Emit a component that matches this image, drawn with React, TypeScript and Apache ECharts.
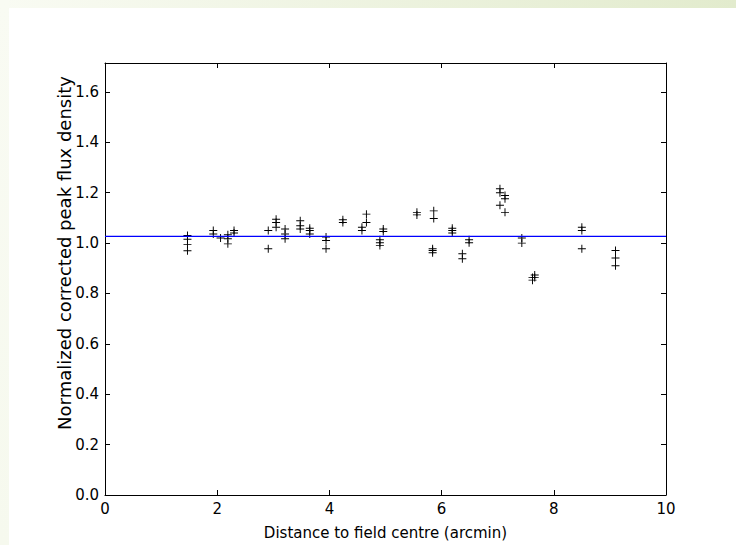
import React, { useEffect, useRef } from "react";
import * as echarts from "echarts";

// Distances (arcmin) of each group of sources
const clusterX: number[] = [
  1.47, 1.93, 2.06, 2.19, 2.3, 2.91, 3.05, 3.21, 3.48, 3.65, 3.94, 4.24, 4.58, 4.66,
  4.9, 4.96, 5.56, 5.86, 5.84, 6.19, 6.37, 6.49, 7.04, 7.13, 7.43, 7.62, 7.66, 8.5, 9.1,
];
// Normalized corrected peak flux density values for each group
const clusterY: number[][] = [
  [1.03, 1.015, 0.995, 0.97],
  [1.05, 1.036],
  [1.02],
  [1.033, 1.017, 0.997],
  [1.05, 1.04],
  [1.05, 0.978],
  [1.095, 1.082, 1.063],
  [1.056, 1.036, 1.017],
  [1.089, 1.069, 1.056],
  [1.059, 1.05, 1.036],
  [1.024, 1.01, 0.978],
  [1.093, 1.082],
  [1.063, 1.05],
  [1.115, 1.082],
  [1.013, 1.001, 0.99],
  [1.056, 1.046],
  [1.122, 1.112],
  [1.128, 1.098],
  [0.978, 0.971, 0.962],
  [1.059, 1.05, 1.04],
  [0.958, 0.938],
  [1.013, 1.001],
  [1.216, 1.2, 1.15],
  [1.189, 1.176, 1.122],
  [1.02, 1.0],
  [0.863, 0.853],
  [0.873, 0.863],
  [1.063, 1.05, 0.978],
  [0.971, 0.941, 0.91],
];
const meanLevel = 1.027;
const xRange = [0, 10];
const yRange = [0, 1.715];
const xLabel = "Distance to field centre (arcmin)";
const yLabel = "Normalized corrected peak flux density";

const plusPath =
  "path://M-0.12,-1 L0.12,-1 L0.12,-0.12 L1,-0.12 L1,0.12 L0.12,0.12 L0.12,1 L-0.12,1 L-0.12,0.12 L-1,0.12 L-1,-0.12 L-0.12,-0.12 Z";

export default function App() {
  const ref = useRef<HTMLDivElement>(null);
  useEffect(() => {
    if (!ref.current) return;
    const chart = echarts.init(ref.current, null, { renderer: "svg" });
    const points: number[][] = [];
    clusterX.forEach((x, i) => clusterY[i].forEach((y) => points.push([x, y])));
    const font = "DejaVu Sans";
    const axisCommon = {
      type: "value" as const,
      axisLine: { show: true, onZero: false, lineStyle: { color: "#000", width: 1 } },
      axisTick: { show: true, inside: true, length: 5, lineStyle: { color: "#000", width: 1 } },
      splitLine: { show: false },
    };
    chart.setOption({
      animation: false,
      backgroundColor: "#ffffff",
      graphic: [
        {
          type: "rect",
          shape: { x: 0, y: 0, width: 736, height: 8 },
          style: {
            fill: new echarts.graphic.LinearGradient(0, 0, 1, 0, [
              { offset: 0, color: "#f9fbf3" },
              { offset: 1, color: "#e2ebcd" },
            ]),
          },
          silent: true,
        },
        {
          type: "rect",
          shape: { x: 0, y: 0, width: 9, height: 545 },
          style: {
            fill: new echarts.graphic.LinearGradient(0, 0, 0, 1, [
              { offset: 0, color: "#f9fbf3" },
              { offset: 1, color: "#f6f9ee" },
            ]),
          },
          silent: true,
        },
        {
          type: "text",
          x: 64,
          y: 253,
          rotation: Math.PI / 2,
          style: {
            text: yLabel,
            font: `18px "${font}"`,
            fill: "#000",
            align: "center",
            verticalAlign: "middle",
          },
          silent: true,
        },
      ],
      grid: { left: 105, right: 70, top: 63, bottom: 46 },
      xAxis: [
        {
          ...axisCommon,
          min: xRange[0],
          max: xRange[1],
          interval: 2,
          position: "bottom",
          name: xLabel,
          nameLocation: "middle",
          nameGap: 30,
          nameTextStyle: { fontFamily: font, fontSize: 15, color: "#000" },
          axisLabel: { fontFamily: font, fontSize: 15, color: "#000", margin: 6 },
        },
        {
          ...axisCommon,
          min: xRange[0],
          max: xRange[1],
          interval: 2,
          position: "top",
          axisLabel: { show: false },
        },
      ],
      yAxis: [
        {
          ...axisCommon,
          min: yRange[0],
          max: yRange[1],
          interval: 0.2,
          position: "left",
          axisLabel: {
            fontFamily: font,
            fontSize: 15,
            color: "#000",
            margin: 6,
            showMaxLabel: false,
            formatter: (v: number) => v.toFixed(1),
          },
        },
        {
          ...axisCommon,
          min: yRange[0],
          max: yRange[1],
          interval: 0.2,
          position: "right",
          axisLabel: { show: false },
        },
      ],
      series: [
        {
          type: "line",
          xAxisIndex: 0,
          yAxisIndex: 0,
          data: [
            [xRange[0], meanLevel],
            [xRange[1], meanLevel],
          ],
          symbol: "none",
          lineStyle: { color: "#0000ff", width: 1.2 },
          silent: true,
        },
        {
          type: "scatter",
          xAxisIndex: 0,
          yAxisIndex: 0,
          data: points,
          symbol: plusPath,
          symbolSize: 8,
          itemStyle: { color: "#000", opacity: 1 },
          silent: true,
        },
      ],
    });
    return () => chart.dispose();
  }, []);
  return (
    <div style={{ position: "fixed", left: 0, top: 0, width: 736, height: 545 }}>
      <div ref={ref} style={{ width: 736, height: 545 }} />
    </div>
  );
}
